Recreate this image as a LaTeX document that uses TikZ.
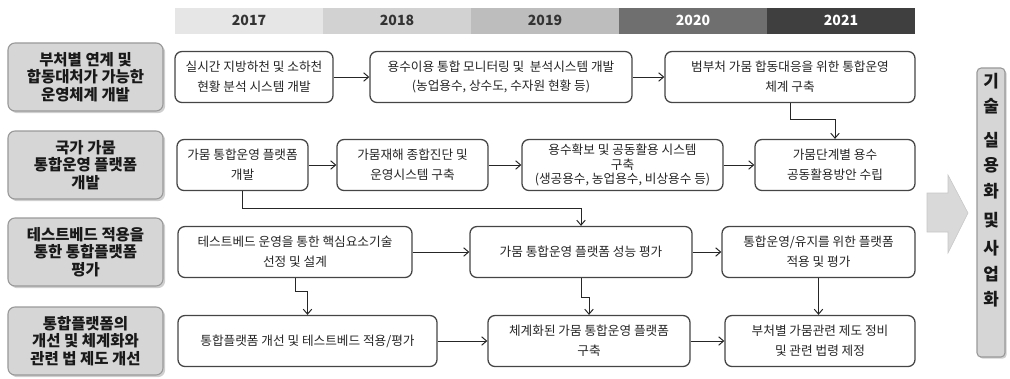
\documentclass[tikz,border=0pt]{standalone}
\usepackage{fontspec}
\setmainfont{Noto Sans CJK KR}
\usetikzlibrary{arrows.meta,shadows}

\definecolor{yrA}{HTML}{E6E6E6}
\definecolor{yrB}{HTML}{D2D2D2}
\definecolor{yrC}{HTML}{BDBDBD}
\definecolor{yrD}{HTML}{6F6F6F}
\definecolor{yrE}{HTML}{3F3F3F}
\definecolor{yrtext}{HTML}{333333}
\definecolor{catfill}{HTML}{D6D6D6}
\definecolor{catline}{HTML}{9A9A9A}
\definecolor{boxline}{HTML}{454545}
\definecolor{bigarrow}{HTML}{D9D9D9}

\tikzset{
  yearbox/.style={minimum width=3.7cm, minimum height=0.65cm, inner sep=0pt,
    font=\fontsize{10}{12}\selectfont\bfseries},
  catbox/.style={draw=catline, fill=catfill, line width=0.8pt, rounded corners=5pt,
    minimum width=3.875cm, minimum height=1.7cm, inner sep=0pt, align=center,
    text=black!90, font=\fontsize{11}{12.4}\selectfont\bfseries,
    drop shadow={shadow xshift=1.5pt, shadow yshift=-1.5pt, fill=gray!75}},
  procbox/.style={draw=boxline, fill=white, line width=0.9pt, rounded corners=5pt,
    minimum height=1.275cm, inner sep=0pt, align=center, text=black!85,
    font=\fontsize{9}{14}\selectfont},
  flow/.style={draw=black!85, line width=0.7pt, -{Straight Barb[length=3.5pt,width=6pt]}},
}

\begin{document}
\begin{tikzpicture}[x=0.025cm, y=-0.025cm]
  \useasboundingbox (0,0) rectangle (1010,378);

  % year bar
  \foreach \yr/\col/\txt [count=\i] in {2017/yrA/yrtext,2018/yrB/yrtext,
      2019/yrC/yrtext,2020/yrD/white,2021/yrE/white}{
    \node[yearbox, fill=\col, text=\txt] (y\yr) at (101+148*\i,20.5) {\yr};
  }

  % categories on the left
  \node[catbox] (cat1) at (85.5,77)  {부처별 연계 및\\합동대처가 가능한\\운영체계 개발};
  \node[catbox] (cat2) at (85.5,165) {국가 가뭄\\통합운영 플랫폼\\개발};
  \node[catbox] (cat3) at (85.5,252) {테스트베드 적용을\\통한 통합플랫폼\\평가};
  \node[catbox] (cat4) at (85.5,341) {통합플랫폼의\\개선 및 체계화와\\관련 법 제도 개선};

  % row 1
  \node[procbox, minimum width=3.95cm] (A1) at (254,77)
    {실시간 지방하천 및 소하천\\현황 분석 시스템 개발};
  \node[procbox, minimum width=6.55cm] (A2) at (501,77)
    {용수이용 통합 모니터링 및 \ 분석시스템 개발\\(농업용수, 상수도, 수자원 현황 등)};
  \node[procbox, minimum width=6.25cm] (A3) at (790,77)
    {범부처 가뭄 합동대응을 위한 통합운영\\체계 구축};

  % row 2
  \node[procbox, minimum width=3.275cm] (B1) at (242.5,165)
    {가뭄 통합운영 플랫폼\\개발};
  \node[procbox, minimum width=3.775cm] (B2) at (412.5,165)
    {가뭄재해 종합진단 및\\운영시스템 구축};
  \node[procbox, minimum width=5.025cm, font=\fontsize{9}{10.5}\selectfont] (B3) at (622.5,165)
    {용수확보 및 공동활용 시스템\\구축\\(생공용수, 농업용수, 비상용수 등)};
  \node[procbox, minimum width=4cm] (B4) at (835,165)
    {가뭄단계별 용수\\공동활용방안 수립};

  % row 3
  \node[procbox, minimum width=5.85cm] (C1) at (295,252)
    {테스트베드 운영을 통한 핵심요소기술\\선정 및 설계};
  \node[procbox, minimum width=5.55cm] (C2) at (581,252)
    {가뭄 통합운영 플랫폼 성능 평가};
  \node[procbox, minimum width=4.825cm] (C3) at (818.5,252)
    {통합운영/유지를 위한 플랫폼\\적용 및 평가};

  % row 4
  \node[procbox, minimum width=6.475cm] (D1) at (307.5,341)
    {통합플랫폼 개선 및 테스트베드 적용/평가};
  \node[procbox, minimum width=5.05cm] (D2) at (589,341)
    {체계화된 가뭄 통합운영 플랫폼\\구축};
  \node[procbox, minimum width=4.75cm] (D3) at (820,341)
    {부처별 가뭄관련 제도 정비\\및 관련 법령 제정};

  % arrows inside the rows
  \draw[flow] (A1.east) -- (A2.west);
  \draw[flow] (A2.east) -- (A3.west);
  \draw[flow] (B1.east) -- (B2.west);
  \draw[flow] (B2.east) -- (B3.west);
  \draw[flow] (B3.east) -- (B4.west);
  \draw[flow] (C1.east) -- (C2.west);
  \draw[flow] (C2.east) -- (C3.west);
  \draw[flow] (D1.east) -- (D2.west);
  \draw[flow] (D2.east) -- (D3.west);

  % arrows between the rows
  \draw[flow] (A3.south) -- ++(0,16) -| (B4.north);
  \draw[flow] (B1.south) -- ++(0,17) -| (C2.north);
  \draw[flow] (C1.south) -- ++(0,13) -| (D1.north);
  \draw[flow] (C2.south) -- ++(0,19) -| (D2.north);
  \draw[flow] (C3.south) -- (C3.south |- D3.north);

  % big arrow and result box
  \filldraw[fill=bigarrow, draw=black!22, line width=0.4pt]
    (927,193) -- (948,193) -- (948,175) -- (968,213) -- (948,253)
    -- (948,232) -- (927,232) -- cycle;
  \node[draw=catline, fill=catfill, line width=0.8pt, rounded corners=3pt,
    minimum width=0.7cm, minimum height=7.225cm, inner sep=0pt,
    drop shadow={shadow xshift=1.2pt, shadow yshift=-1.2pt, fill=gray!75}]
    (result) at (991,212.5) {};
  \node[anchor=north, align=center, inner sep=0pt, text=black!90,
    font=\fontsize{12}{18}\selectfont\bfseries] (resulttext) at (991,73)
    {기\\술\\[6pt]실\\용\\화\\[3pt]및\\[2pt]사\\업\\화};
\end{tikzpicture}
\end{document}
